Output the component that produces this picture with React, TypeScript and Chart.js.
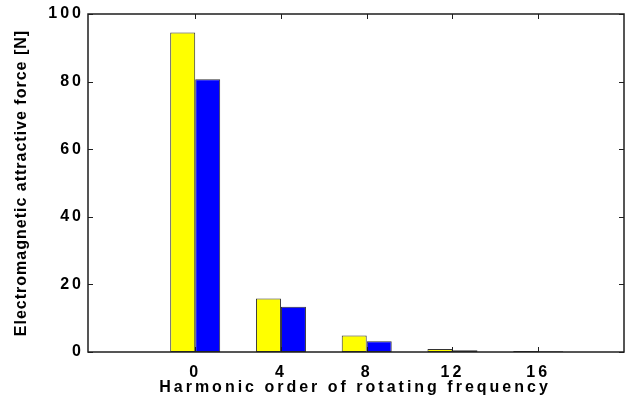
import { useEffect, useRef } from "react";
import { Chart, registerables } from "chart.js";

Chart.register(...registerables);

// Harmonic orders on the x axis and the two force series for each order
const harmonicOrders = [0, 4, 8, 12, 16];
const forceSeriesA = [94.5, 15.8, 4.9, 0.9, 0.3];
const forceSeriesB = [80.7, 13.4, 3.2, 0.5, 0.2];
const yTickValues = [0, 20, 40, 60, 80, 100];
const xRange = [-5, 20];
const yRange = [0, 100];

const xTitle = "Harmonic order of rotating frequency";
const yTitle = "Electromagnetic attractive force [N]";

const FONT = '"Liberation Sans", Arial, Helvetica, sans-serif';
const AXIS_COLOR = "#1e1e1e";
const BAR_EDGE = "#333333";

// Boxed axes with inward-pointing tick marks on all four sides
const boxAxes = {
  id: "boxAxes",
  afterDatasetsDraw(chart: any) {
    const { ctx, chartArea: a, scales } = chart;
    const len = 5;
    ctx.save();
    ctx.strokeStyle = AXIS_COLOR;
    ctx.lineWidth = 1.5;
    ctx.strokeRect(a.left, a.top, a.right - a.left, a.bottom - a.top);
    ctx.lineWidth = 1;
    ctx.beginPath();
    for (const t of scales.x.ticks) {
      const px = Math.round(scales.x.getPixelForValue(t.value)) + 0.5;
      ctx.moveTo(px, a.bottom);
      ctx.lineTo(px, a.bottom - len);
      ctx.moveTo(px, a.top);
      ctx.lineTo(px, a.top + len);
    }
    for (const t of scales.y.ticks) {
      const py = Math.round(scales.y.getPixelForValue(t.value)) + 0.5;
      ctx.moveTo(a.left, py);
      ctx.lineTo(a.left + len, py);
      ctx.moveTo(a.right, py);
      ctx.lineTo(a.right - len, py);
    }
    ctx.stroke();
    ctx.restore();
  },
};

// Tick labels use a widened letter spacing; axis titles are drawn here
const axisText = {
  id: "axisText",
  beforeDraw(chart: any) {
    (chart.ctx as any).letterSpacing = "3px";
  },
  afterDraw(chart: any) {
    const { ctx, chartArea: a } = chart;
    ctx.save();
    ctx.fillStyle = "#000";
    ctx.font = `bold 16px ${FONT}`;
    ctx.textAlign = "center";
    ctx.textBaseline = "middle";
    (ctx as any).letterSpacing = "3px";
    ctx.fillText(xTitle, (a.left + a.right) / 2 - 1, 388);
    (ctx as any).letterSpacing = "1px";
    ctx.translate(22, (a.top + a.bottom) / 2);
    ctx.rotate(-Math.PI / 2);
    ctx.fillText(yTitle, 0, 0);
    ctx.restore();
  },
};

export default function App() {
  const canvasRef = useRef<HTMLCanvasElement | null>(null);

  useEffect(() => {
    document.body.style.margin = "0";
    const canvas = canvasRef.current;
    if (!canvas) return;

    const chart = new Chart(canvas, {
      type: "bar",
      data: {
        datasets: [
          {
            label: "Force A",
            data: harmonicOrders.map((x, i) => ({ x, y: forceSeriesA[i] })),
            backgroundColor: "#ffff00",
            borderColor: BAR_EDGE,
            borderWidth: 1,
            borderSkipped: false,
          },
          {
            label: "Force B",
            data: harmonicOrders.map((x, i) => ({ x, y: forceSeriesB[i] })),
            backgroundColor: "#0000ff",
            borderColor: BAR_EDGE,
            borderWidth: 1,
            borderSkipped: false,
          },
        ],
      },
      options: {
        responsive: false,
        animation: false,
        devicePixelRatio: 1,
        layout: { padding: { top: 14, right: 6, left: 0, bottom: 0 } },
        datasets: {
          bar: { categoryPercentage: 0.583, barPercentage: 1 },
        },
        plugins: {
          legend: { display: false },
          tooltip: { enabled: false },
          title: { display: false },
        },
        scales: {
          x: {
            type: "linear",
            min: xRange[0],
            max: xRange[1],
            offset: false,
            grid: { display: false, drawTicks: false },
            border: { display: false },
            afterBuildTicks(scale: any) {
              scale.ticks = harmonicOrders.map((v) => ({ value: v }));
            },
            afterFit(scale: any) {
              scale.height = 49;
            },
            ticks: {
              padding: 11,
              color: "#000",
              font: { family: FONT, size: 16, weight: "bold" },
              maxRotation: 0,
              autoSkip: false,
              callback: (v: any) => String(v),
            },
          },
          y: {
            type: "linear",
            min: yRange[0],
            max: yRange[1],
            grid: { display: false, drawTicks: false },
            border: { display: false },
            afterBuildTicks(scale: any) {
              scale.ticks = yTickValues.map((v) => ({ value: v }));
            },
            afterFit(scale: any) {
              scale.width = 88;
            },
            ticks: {
              padding: 4,
              color: "#000",
              font: { family: FONT, size: 16, weight: "bold" },
              callback: (v: any) => String(v),
            },
          },
        },
      },
      plugins: [boxAxes, axisText],
    } as any);

    return () => chart.destroy();
  }, []);

  return (
    <div style={{ position: "absolute", left: 0, top: 0, width: 630, height: 401, background: "#fff" }}>
      <canvas ref={canvasRef} width={630} height={401} />
    </div>
  );
}
